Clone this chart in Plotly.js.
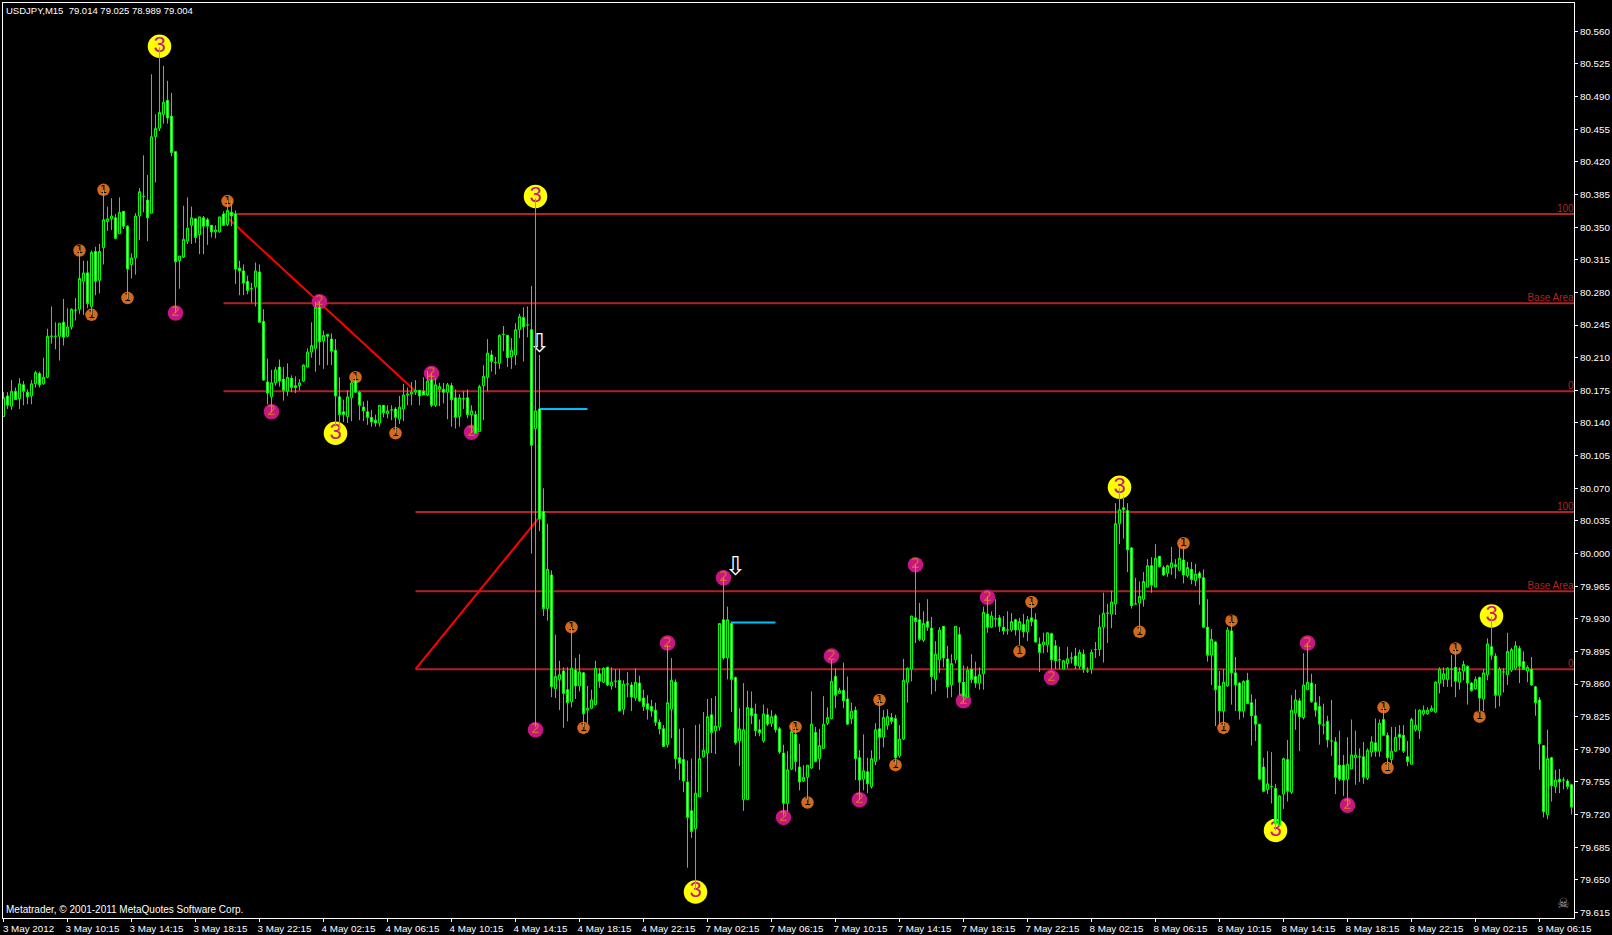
<!DOCTYPE html>
<html>
<head>
<meta charset="utf-8">
<title>USDJPY,M15</title>
<script src="https://cdn.plot.ly/plotly-3.0.1.min.js"></script>
<style>html,body{margin:0;padding:0;background:#000;overflow:hidden}#chart{width:1612px;height:935px}</style>
</head>
<body>
<div id="chart"></div>
<script>
const open = [
80.147,80.169,80.158,80.174,80.166,80.181,80.173,80.169,80.182,80.193,
80.182,80.189,80.233,80.233,80.233,80.248,80.233,80.243,80.261,80.262,
80.292,80.301,80.265,80.324,80.293,80.328,80.356,80.359,80.360,80.343,
80.367,80.351,80.310,80.317,80.362,80.383,80.379,80.365,80.447,80.456,
80.471,80.486,80.469,80.431,80.314,80.318,80.335,80.352,80.359,80.342,
80.360,80.358,80.352,80.345,80.345,80.364,80.353,80.366,80.364,80.306,
80.303,80.292,80.284,80.286,80.302,80.249,80.184,80.168,80.183,80.200,
80.187,80.174,80.188,80.180,80.180,80.185,80.200,80.216,80.220,80.264,
80.228,80.235,80.230,80.218,80.168,80.152,80.147,80.167,80.185,80.173,
80.157,80.152,80.146,80.143,80.140,80.159,80.150,80.154,80.155,80.144,
80.155,80.170,80.171,80.173,80.175,80.174,80.170,80.186,80.159,80.176,
80.176,80.173,80.180,80.167,80.147,80.166,80.167,80.149,80.149,80.131,
80.180,80.189,80.213,80.205,80.204,80.235,80.234,80.211,80.213,80.240,
80.253,80.245,80.240,80.134,80.155,80.045,79.941,79.977,79.855,79.865,
79.874,79.854,79.841,79.875,79.858,79.872,79.832,79.834,79.838,79.871,
79.862,79.878,79.858,79.863,79.864,79.833,79.860,79.859,79.845,79.861,
79.845,79.839,79.836,79.832,79.819,79.812,79.795,79.833,79.862,79.781,
79.779,79.755,79.724,79.705,79.739,79.782,79.786,79.827,79.810,79.814,
79.929,79.888,79.925,79.867,79.799,79.736,79.736,79.834,79.828,79.811,
79.799,79.827,79.818,79.826,79.812,79.786,79.732,79.769,79.806,79.771,
79.756,79.760,79.770,79.808,79.780,79.791,79.818,79.823,79.868,79.850,
79.853,79.844,79.823,79.832,79.781,79.758,79.766,79.750,79.777,79.812,
79.803,79.816,79.824,79.823,79.783,79.801,79.862,79.876,79.931,79.929,
79.907,79.927,79.920,79.865,79.886,79.922,79.887,79.859,79.886,79.913,
79.862,79.846,79.876,79.868,79.861,79.871,79.935,79.921,79.930,79.931,
79.921,79.918,79.918,79.929,79.918,79.924,79.916,79.931,79.929,79.903,
79.902,79.902,79.914,79.901,79.886,79.876,79.882,79.888,79.890,79.879,
79.892,79.874,79.876,79.897,79.897,79.921,79.936,79.935,79.946,80.032,
80.049,80.046,80.006,79.946,79.947,79.951,79.964,79.987,79.964,79.997,
79.985,79.979,79.985,79.988,79.982,79.993,79.976,79.983,79.971,79.979,
79.974,79.921,79.891,79.905,79.858,79.831,79.858,79.917,79.872,79.861,
79.831,79.864,79.840,79.826,79.817,79.771,79.747,79.750,79.748,79.709,
79.742,79.779,79.744,79.829,79.842,79.824,79.854,79.861,79.840,79.836,
79.816,79.820,79.799,79.798,79.773,79.773,79.758,79.769,79.781,79.782,
79.782,79.759,79.787,79.797,79.788,79.822,79.805,79.779,79.788,79.806,
79.805,79.782,79.774,79.811,79.810,79.828,79.828,79.831,79.830,79.861,
79.865,79.865,79.876,79.878,79.862,79.874,79.879,79.861,79.855,79.867,
79.844,79.870,79.900,79.890,79.848,79.873,79.870,79.875,79.877,79.898,
79.884,79.874,79.876,79.857,79.843,79.794,79.720,79.781,79.750,79.758,
79.757,79.756,79.752];
const high = [
80.173,80.173,80.186,80.178,80.188,80.185,80.176,80.186,80.196,80.195,
80.210,80.241,80.265,80.248,80.247,80.273,80.263,80.263,80.274,80.325,
80.314,80.314,80.325,80.329,80.332,80.390,80.372,80.381,80.364,80.382,
80.367,80.352,80.322,80.365,80.392,80.427,80.406,80.514,80.471,80.543,
80.523,80.507,80.494,80.431,80.319,80.373,80.382,80.372,80.359,80.361,
80.362,80.360,80.352,80.352,80.361,80.367,80.379,80.379,80.368,80.314,
80.310,80.298,80.290,80.312,80.310,80.262,80.209,80.197,80.200,80.208,
80.200,80.204,80.191,80.190,80.187,80.203,80.220,80.248,80.270,80.270,
80.239,80.235,80.236,80.230,80.189,80.165,80.175,80.185,80.191,80.174,
80.163,80.164,80.154,80.149,80.159,80.159,80.159,80.159,80.157,80.169,
80.182,80.178,80.184,80.186,80.175,80.189,80.196,80.194,80.188,80.183,
80.183,80.183,80.183,80.176,80.171,80.174,80.176,80.159,80.153,80.181,
80.202,80.230,80.218,80.211,80.235,80.244,80.234,80.231,80.247,80.257,
80.264,80.265,80.287,80.381,80.213,80.070,80.032,79.982,79.913,79.885,
79.878,79.878,79.921,79.888,79.892,79.873,79.858,79.854,79.885,79.877,
79.878,79.878,79.878,79.876,79.876,79.864,79.873,79.862,79.877,79.869,
79.854,79.848,79.843,79.840,79.822,79.816,79.902,79.888,79.865,79.812,
79.813,79.778,79.780,79.816,79.817,79.830,79.844,79.845,79.847,79.925,
79.974,79.943,79.927,79.868,79.834,79.861,79.853,79.852,79.839,79.822,
79.838,79.834,79.832,79.828,79.814,79.795,79.788,79.816,79.814,79.796,
79.773,79.773,79.852,79.814,79.812,79.847,79.835,79.886,79.877,79.856,
79.883,79.868,79.840,79.836,79.789,79.806,79.781,79.789,79.818,79.843,
79.832,79.833,79.829,79.827,79.816,79.887,79.878,79.933,79.988,79.947,
79.938,79.951,79.932,79.906,79.921,79.922,79.901,79.892,79.922,79.921,
79.880,79.879,79.892,79.884,79.878,79.943,79.954,79.938,79.951,79.934,
79.933,79.938,79.936,79.930,79.931,79.935,79.933,79.948,79.936,79.910,
79.915,79.915,79.915,79.907,79.900,79.886,79.900,79.894,79.899,79.897,
79.897,79.878,79.897,79.905,79.934,79.958,79.946,79.960,80.054,80.070,
80.061,80.054,80.007,79.974,79.970,79.980,79.994,79.996,80.010,79.997,
79.987,79.988,80.007,79.994,80.009,80.008,79.991,79.991,79.989,79.981,
79.983,79.951,79.919,79.906,79.874,79.876,79.921,79.927,79.889,79.862,
79.864,79.872,79.849,79.844,79.817,79.781,79.788,79.787,79.753,79.741,
79.781,79.800,79.848,79.854,79.845,79.893,79.904,79.871,79.860,79.847,
79.839,79.826,79.843,79.803,79.810,79.784,79.803,79.822,79.810,79.791,
79.798,79.791,79.804,79.823,79.822,79.835,79.808,79.814,79.814,79.816,
79.816,79.799,79.824,79.833,79.833,79.837,79.835,79.837,79.863,79.878,
79.878,79.878,79.891,79.898,79.878,79.885,79.880,79.862,79.868,79.868,
79.876,79.909,79.932,79.893,79.878,79.877,79.915,79.899,79.906,79.901,
79.895,79.880,79.889,79.858,79.846,79.794,79.811,79.782,79.768,79.769,
79.760,79.758,79.753];
const low = [
80.147,80.155,80.154,80.165,80.155,80.159,80.160,80.160,80.178,80.178,
80.181,80.188,80.225,80.219,80.207,80.223,80.232,80.240,80.250,80.257,
80.256,80.263,80.256,80.277,80.279,80.310,80.346,80.347,80.337,80.343,
80.348,80.273,80.295,80.299,80.336,80.366,80.335,80.365,80.398,80.453,
80.461,80.461,80.426,80.258,80.284,80.317,80.332,80.332,80.333,80.321,
80.321,80.331,80.339,80.338,80.344,80.351,80.351,80.351,80.289,80.277,
80.277,80.278,80.269,80.265,80.248,80.185,80.160,80.151,80.180,80.179,
80.164,80.169,80.173,80.172,80.175,80.184,80.200,80.210,80.195,80.202,
80.198,80.202,80.202,80.136,80.131,80.141,80.140,80.142,80.173,80.143,
80.142,80.138,80.136,80.136,80.136,80.146,80.145,80.143,80.129,80.139,
80.142,80.159,80.159,80.170,80.159,80.170,80.169,80.157,80.157,80.158,
80.161,80.144,80.136,80.134,80.136,80.155,80.145,80.129,80.129,80.131,
80.143,80.174,80.195,80.192,80.198,80.217,80.200,80.198,80.202,80.231,
80.206,80.232,80.000,79.814,80.024,79.933,79.928,79.846,79.845,79.832,
79.813,79.820,79.835,79.844,79.852,79.814,79.818,79.833,79.837,79.856,
79.861,79.858,79.854,79.856,79.831,79.827,79.846,79.831,79.842,79.841,
79.831,79.822,79.825,79.815,79.806,79.793,79.792,79.802,79.769,79.757,
79.744,79.663,79.695,79.639,79.739,79.781,79.744,79.786,79.785,79.810,
79.886,79.865,79.830,79.795,79.772,79.724,79.736,79.817,79.804,79.804,
79.797,79.815,79.814,79.808,79.785,79.719,79.723,79.768,79.766,79.746,
79.755,79.736,79.769,79.776,79.768,79.791,79.816,79.822,79.834,79.850,
79.834,79.816,79.817,79.757,79.736,79.746,79.743,79.748,79.773,79.779,
79.792,79.811,79.817,79.773,79.781,79.800,79.840,79.863,79.904,79.906,
79.905,79.917,79.849,79.852,79.872,79.878,79.845,79.846,79.882,79.848,
79.840,79.846,79.861,79.856,79.854,79.854,79.915,79.920,79.921,79.916,
79.913,79.913,79.916,79.912,79.902,79.910,79.906,79.922,79.905,79.873,
79.893,79.894,79.875,79.876,79.876,79.876,79.877,79.882,79.876,79.876,
79.872,79.872,79.871,79.888,79.890,79.883,79.904,79.920,79.934,80.010,
80.016,79.980,79.941,79.946,79.916,79.943,79.964,79.958,79.964,79.985,
79.976,79.975,79.977,79.973,79.981,79.968,79.974,79.967,79.965,79.945,
79.920,79.884,79.859,79.815,79.814,79.815,79.857,79.838,79.831,79.822,
79.824,79.839,79.794,79.799,79.757,79.744,79.742,79.732,79.703,79.707,
79.726,79.734,79.742,79.811,79.788,79.822,79.854,79.840,79.825,79.795,
79.806,79.792,79.783,79.742,79.756,79.740,79.729,79.769,79.752,79.755,
79.753,79.757,79.782,79.782,79.782,79.805,79.768,79.774,79.787,79.789,
79.786,79.772,79.774,79.809,79.801,79.826,79.827,79.830,79.829,79.850,
79.857,79.857,79.857,79.846,79.854,79.864,79.838,79.852,79.854,79.830,
79.831,79.864,79.886,79.834,79.836,79.851,79.859,79.873,79.875,79.861,
79.875,79.862,79.858,79.826,79.768,79.717,79.715,79.734,79.743,79.743,
79.747,79.747,79.720];
const close = [
80.167,80.159,80.174,80.165,80.182,80.174,80.168,80.182,80.194,80.181,
80.189,80.233,80.233,80.233,80.247,80.232,80.243,80.262,80.261,80.295,
80.301,80.268,80.323,80.292,80.324,80.358,80.359,80.362,80.338,80.366,
80.351,80.305,80.317,80.362,80.388,80.383,80.360,80.447,80.456,80.473,
80.484,80.467,80.430,80.313,80.319,80.337,80.349,80.360,80.339,80.361,
80.351,80.351,80.345,80.347,80.361,80.352,80.368,80.362,80.305,80.303,
80.290,80.282,80.284,80.303,80.248,80.186,80.172,80.183,80.197,80.185,
80.175,80.189,80.178,80.178,80.183,80.202,80.216,80.223,80.264,80.227,
80.234,80.233,80.217,80.169,80.149,80.149,80.168,80.183,80.173,80.159,
80.153,80.146,80.141,80.140,80.159,80.151,80.153,80.154,80.146,80.157,
80.170,80.171,80.173,80.175,80.169,80.170,80.185,80.159,80.181,80.179,
80.173,80.181,80.165,80.146,80.167,80.166,80.149,80.153,80.129,80.179,
80.190,80.215,80.206,80.205,80.234,80.235,80.210,80.218,80.240,80.254,
80.243,80.245,80.116,80.153,80.037,79.941,79.983,79.857,79.868,79.870,
79.850,79.840,79.877,79.858,79.873,79.828,79.834,79.843,79.877,79.863,
79.877,79.859,79.862,79.863,79.831,79.860,79.860,79.846,79.862,79.842,
79.836,79.833,79.831,79.819,79.812,79.793,79.840,79.864,79.780,79.775,
79.756,79.717,79.702,79.743,79.780,79.789,79.825,79.808,79.815,79.925,
79.888,79.929,79.865,79.797,79.812,79.811,79.835,79.826,79.810,79.808,
79.828,79.817,79.825,79.811,79.787,79.732,79.768,79.809,79.777,79.755,
79.760,79.773,79.817,79.777,79.794,79.817,79.824,79.863,79.848,79.853,
79.842,79.817,79.831,79.780,79.757,79.767,79.753,79.780,79.811,79.803,
79.824,79.825,79.820,79.781,79.801,79.864,79.877,79.933,79.927,79.908,
79.925,79.921,79.868,79.892,79.918,79.888,79.857,79.882,79.922,79.862,
79.847,79.875,79.865,79.861,79.870,79.937,79.921,79.933,79.930,79.922,
79.917,79.918,79.927,79.918,79.927,79.916,79.929,79.927,79.905,79.894,
79.905,79.915,79.886,79.885,79.886,79.885,79.887,79.888,79.880,79.894,
79.876,79.874,79.894,79.897,79.921,79.936,79.936,79.948,80.032,80.047,
80.047,80.004,79.944,79.946,79.954,79.970,79.987,79.966,79.995,79.986,
79.977,79.987,79.990,79.986,79.995,79.977,79.985,79.972,79.978,79.974,
79.921,79.891,79.908,79.854,79.831,79.862,79.918,79.872,79.859,79.831,
79.863,79.839,79.826,79.817,79.758,79.745,79.753,79.750,79.710,79.740,
79.780,79.745,79.832,79.843,79.825,79.859,79.862,79.841,79.832,79.817,
79.816,79.800,79.799,79.760,79.758,79.757,79.774,79.784,79.784,79.782,
79.760,79.789,79.798,79.788,79.818,79.805,79.781,79.788,79.803,79.803,
79.788,79.777,79.822,79.816,79.832,79.832,79.832,79.834,79.862,79.876,
79.871,79.877,79.876,79.863,79.873,79.881,79.861,79.853,79.865,79.845,
79.872,79.903,79.891,79.848,79.876,79.873,79.895,79.897,79.901,79.879,
79.876,79.878,79.859,79.840,79.796,79.723,79.780,79.751,79.757,79.755,
79.757,79.750,79.728];

const tickIndex = [0,16,32,48,64,80,96,112,128,144,160,176,192,208,224,240,256,272,288,304,320,336,352,368,384];
const tickLabels = ["3 May 2012","3 May 10:15","3 May 14:15","3 May 18:15","3 May 22:15","4 May 02:15","4 May 06:15","4 May 10:15","4 May 14:15","4 May 18:15","4 May 22:15","7 May 02:15","7 May 06:15","7 May 10:15","7 May 14:15","7 May 18:15","7 May 22:15","8 May 02:15","8 May 06:15","8 May 10:15","8 May 14:15","8 May 18:15","8 May 22:15","9 May 02:15","9 May 06:15"];
const priceTicks = [79.615,79.650,79.685,79.720,79.755,79.790,79.825,79.860,79.895,79.930,79.965,80.000,80.035,80.070,80.105,80.140,80.175,80.210,80.245,80.280,80.315,80.350,80.385,80.420,80.455,80.490,80.525,80.560];

const waveThreeIndex = [39,83,133,173,279,318,372];
const waveThreePrice = [80.544,80.129,80.383,79.637,80.071,79.703,79.933];
const waveTwoIndex = [43,67,79,107,117,133,166,180,195,207,214,228,240,246,262,326,336];
const waveTwoPrice = [80.258,80.152,80.270,80.193,80.130,79.811,79.904,79.974,79.717,79.890,79.736,79.988,79.842,79.953,79.867,79.904,79.730];
const waveOneIndex = [19,22,25,31,56,88,98,142,145,198,201,219,223,254,257,284,295,305,307,345,346,363,369];
const waveOnePrice = [80.325,80.256,80.390,80.274,80.378,80.189,80.129,79.921,79.813,79.814,79.733,79.843,79.773,79.895,79.948,79.916,80.011,79.813,79.928,79.835,79.770,79.898,79.825];

const fibOneStart = 55, fibTwoStart = 103, fibTwoEnd = 135;
const fibOneLevels = [80.364,80.2685,80.174];
const fibTwoLevels = [80.0445,79.9595,79.876];
const fibLabels = ["100","Base Area","0"];
const cyanSegments = [{from:134,to:146,price:80.155},{from:182,to:193,price:79.926}];
const arrowIndex = [134,183];
const arrowPrice = [80.223,79.984];

const xRange = [-0.125, 392.625];
const yRange = [79.6091, 80.5904];
const barIndex = open.map((_, i) => i);
const font = "Liberation Sans, Arial, sans-serif";
const firebrick = "#b22222";

const traces = [];
// levels, drawn on the base axes so the candles sit above them
[[fibOneStart, fibOneLevels], [fibTwoStart, fibTwoLevels]].forEach(([start, levels]) => {
  levels.forEach(level => traces.push({
    type: "scatter", mode: "lines", x: [start, xRange[1]], y: [level, level],
    line: {color: firebrick, width: 2}, hoverinfo: "skip", showlegend: false
  }));
  traces.push({
    type: "scatter", mode: "text", x: levels.map(() => xRange[1] - 0.1), y: levels,
    text: fibLabels, textposition: "top left",
    textfont: {family: font, size: 10, color: firebrick}, hoverinfo: "skip", showlegend: false
  });
});
// diagonal legs
traces.push({type: "scatter", mode: "lines", x: [fibOneStart, fibTwoStart], y: [fibOneLevels[0], fibOneLevels[2]],
  line: {color: "#ff0000", width: 2}, hoverinfo: "skip", showlegend: false});
traces.push({type: "scatter", mode: "lines", x: [fibTwoStart, fibTwoEnd], y: [fibTwoLevels[2], fibTwoLevels[0]],
  line: {color: "#ff0000", width: 2}, hoverinfo: "skip", showlegend: false});
cyanSegments.forEach(s => traces.push({type: "scatter", mode: "lines", x: [s.from, s.to], y: [s.price, s.price],
  line: {color: "#00bfff", width: 2}, hoverinfo: "skip", showlegend: false}));
// wave markers
function waveTrace(xs, ys, label, size, fill, ink, fontSize, family) {
  return {type: "scatter", mode: "markers+text", x: xs, y: ys, text: xs.map(() => label),
    textposition: "middle center", textfont: {family: family, size: fontSize, color: ink},
    marker: {size: size, color: fill, line: {width: 0}}, hoverinfo: "skip", showlegend: false};
}
traces.push(waveTrace(waveOneIndex, waveOnePrice, "1", 12.5, "#d2691e", "#000000", 11, "DejaVu Sans"));
traces.push(waveTrace(waveTwoIndex, waveTwoPrice, "2", 15.5, "#c71585", "#d2691e", 14, "DejaVu Sans"));
traces.push(waveTrace(waveThreeIndex, waveThreePrice, "3", 23.5, "#ffff00", "#c71585", 22, font));
traces.push({type: "scatter", mode: "text", x: arrowIndex, y: arrowPrice, text: arrowIndex.map(() => "\u21E9"),
  textposition: "middle center", textfont: {family: "DejaVu Sans", size: 26, color: "#ffffff"},
  hoverinfo: "skip", showlegend: false});
// candles on the overlaying axes, on top of everything above
traces.push({
  type: "candlestick", x: barIndex, open: open, high: high, low: low, close: close,
  xaxis: "x2", yaxis: "y2", whiskerwidth: 0,
  increasing: {line: {color: "#00ff00", width: 1}, fillcolor: "#000000"},
  decreasing: {line: {color: "#00ff00", width: 1}, fillcolor: "#ffffff"},
  hoverinfo: "skip", showlegend: false
});

const axisFont = {family: font, size: 9.8, color: "#ffffff"};
const smallFont = {family: font, size: 9.5, color: "#ffffff"};
const footerFont = {family: font, size: 10, color: "#ffffff"};
const layout = {
  width: 1612, height: 935,
  paper_bgcolor: "#000000", plot_bgcolor: "#000000",
  margin: {l: 3, r: 38, t: 3, b: 17, pad: 0},
  showlegend: false, boxgap: 0.5, boxgroupgap: 0,
  title: {text: "USDJPY,M15&nbsp;&nbsp;79.014 79.025 78.989 79.004", font: smallFont,
    x: 6 / 1612, xref: "container", xanchor: "left", y: 1 - 11 / 935, yref: "container", yanchor: "middle"},
  xaxis: {range: xRange, tickmode: "array", tickvals: tickIndex, ticktext: tickLabels,
    ticks: "outside", ticklen: 3, tickwidth: 1, tickcolor: "#ffffff", tickfont: axisFont, tickangle: 0,
    ticklabelshift: 25, ticklabelstandoff: -2, showgrid: false, zeroline: false, showline: true, linecolor: "#ffffff", linewidth: 1,
    mirror: true, rangeslider: {visible: false}, automargin: false},
  yaxis: {range: yRange, side: "right", tickmode: "array", tickvals: priceTicks, ticktext: priceTicks.map(v => v.toFixed(3)),
    ticks: "outside", ticklen: 3, tickwidth: 1, tickcolor: "#ffffff", tickfont: axisFont,
    showgrid: false, zeroline: false, showline: true, linecolor: "#ffffff", linewidth: 1, mirror: true, automargin: false},
  xaxis2: {range: xRange, overlaying: "x", visible: false, rangeslider: {visible: false}, showgrid: false, zeroline: false},
  yaxis2: {range: yRange, overlaying: "y", side: "right", visible: false, showgrid: false, zeroline: false},
  annotations: [
    {text: "Metatrader, \u00A9 2001-2011 MetaQuotes Software Corp.", xref: "paper", yref: "paper",
      x: 1 / 1571, y: 9 / 915, xanchor: "left", yanchor: "middle", showarrow: false, font: footerFont},
    {text: "\u2620", xref: "paper", yref: "paper", x: 1560 / 1571, y: 15 / 915, xanchor: "center", yanchor: "middle",
      showarrow: false, font: {family: "DejaVu Sans", size: 14, color: "#a8a8a8"}}
  ]
};
Plotly.newPlot("chart", traces, layout, {displayModeBar: false, responsive: false});
</script>
</body>
</html>
